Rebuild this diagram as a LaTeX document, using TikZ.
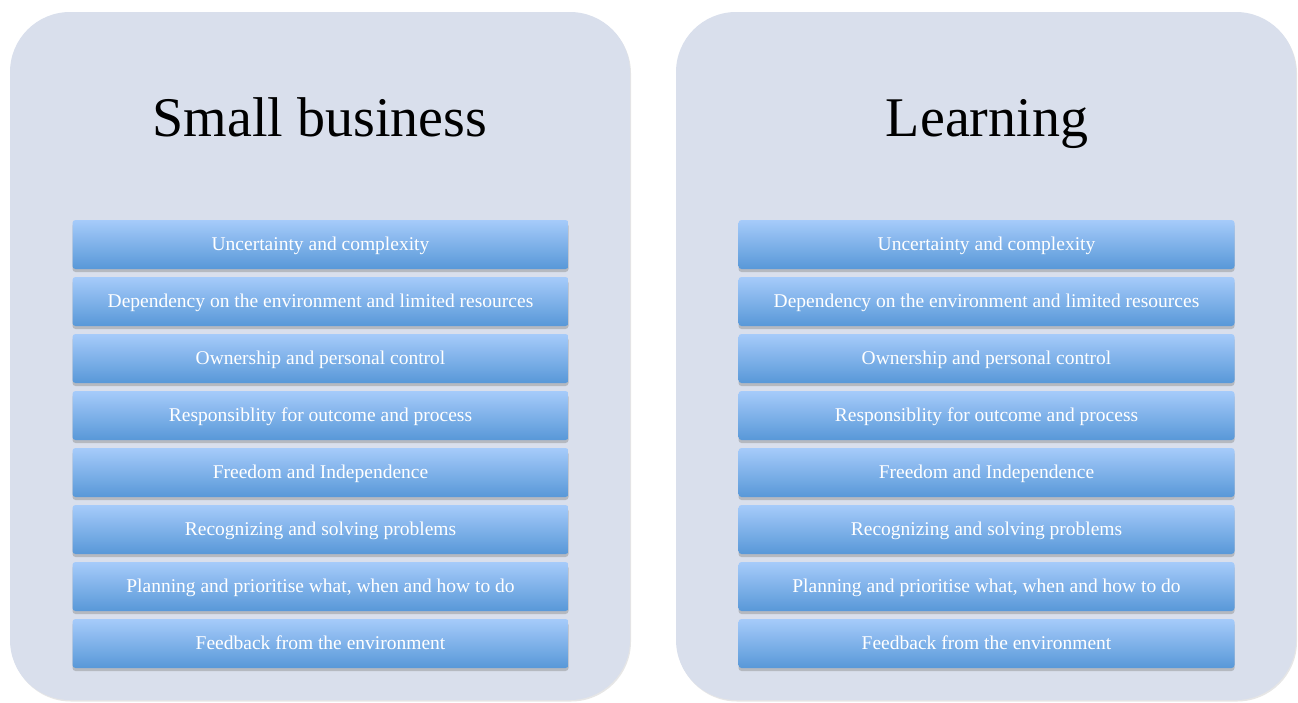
\documentclass[tikz,border=0pt]{standalone}
\usepackage{fontspec}
\setmainfont{Liberation Serif}
\usepackage{xcolor}
\usetikzlibrary{positioning, shadows}
\definecolor{panelgray}{RGB}{217, 223, 236}
\definecolor{bartop}{RGB}{166, 203, 250}
\definecolor{barbottom}{RGB}{88, 152, 216}

\begin{document}
\begin{tikzpicture}[x=1pt, y=-1pt,
    panel/.style={fill=panelgray, rounded corners=60pt, drop shadow={opacity=0.2, shadow xshift=1pt, shadow yshift=-1.5pt}},
    bar/.style={rectangle, rounded corners=3pt, outer sep=0pt, minimum width=496pt, minimum height=49pt, text height=16pt, text depth=4pt, top color=bartop, bottom color=barbottom, text=white, font=\fontsize{19.5}{22}\selectfont, drop shadow={opacity=0.4, shadow xshift=0pt, shadow yshift=-3pt}},
    title/.style={anchor=base, font=\fontsize{56}{64}\selectfont}]
    \useasboundingbox (0,0) rectangle (1298,702);

    % panels
    \path[panel] (10,12) rectangle (630,700);
    \path[panel] (676,12) rectangle (1296,700);

    % left: small business
    \node[title] (sbtitle) at (320,136) {Small business};
    \node[bar] (s1) at (320.5,244.5) {Uncertainty and complexity};
    \node[bar, below=8pt of s1] (s2) {Dependency on the environment and limited resources};
    \node[bar, below=8pt of s2] (s3) {Ownership and personal control};
    \node[bar, below=8pt of s3] (s4) {Responsiblity for outcome and process};
    \node[bar, below=8pt of s4] (s5) {Freedom and Independence};
    \node[bar, below=8pt of s5] (s6) {Recognizing and solving problems};
    \node[bar, below=8pt of s6] (s7) {Planning and prioritise what, when and how to do};
    \node[bar, below=8pt of s7] (s8) {Feedback from the environment};

    % right: learning
    \node[title] (lntitle) at (987,136) {Learning};
    \node[bar] (l1) at (986.5,244.5) {Uncertainty and complexity};
    \node[bar, below=8pt of l1] (l2) {Dependency on the environment and limited resources};
    \node[bar, below=8pt of l2] (l3) {Ownership and personal control};
    \node[bar, below=8pt of l3] (l4) {Responsiblity for outcome and process};
    \node[bar, below=8pt of l4] (l5) {Freedom and Independence};
    \node[bar, below=8pt of l5] (l6) {Recognizing and solving problems};
    \node[bar, below=8pt of l6] (l7) {Planning and prioritise what, when and how to do};
    \node[bar, below=8pt of l7] (l8) {Feedback from the environment};
\end{tikzpicture}
\end{document}
